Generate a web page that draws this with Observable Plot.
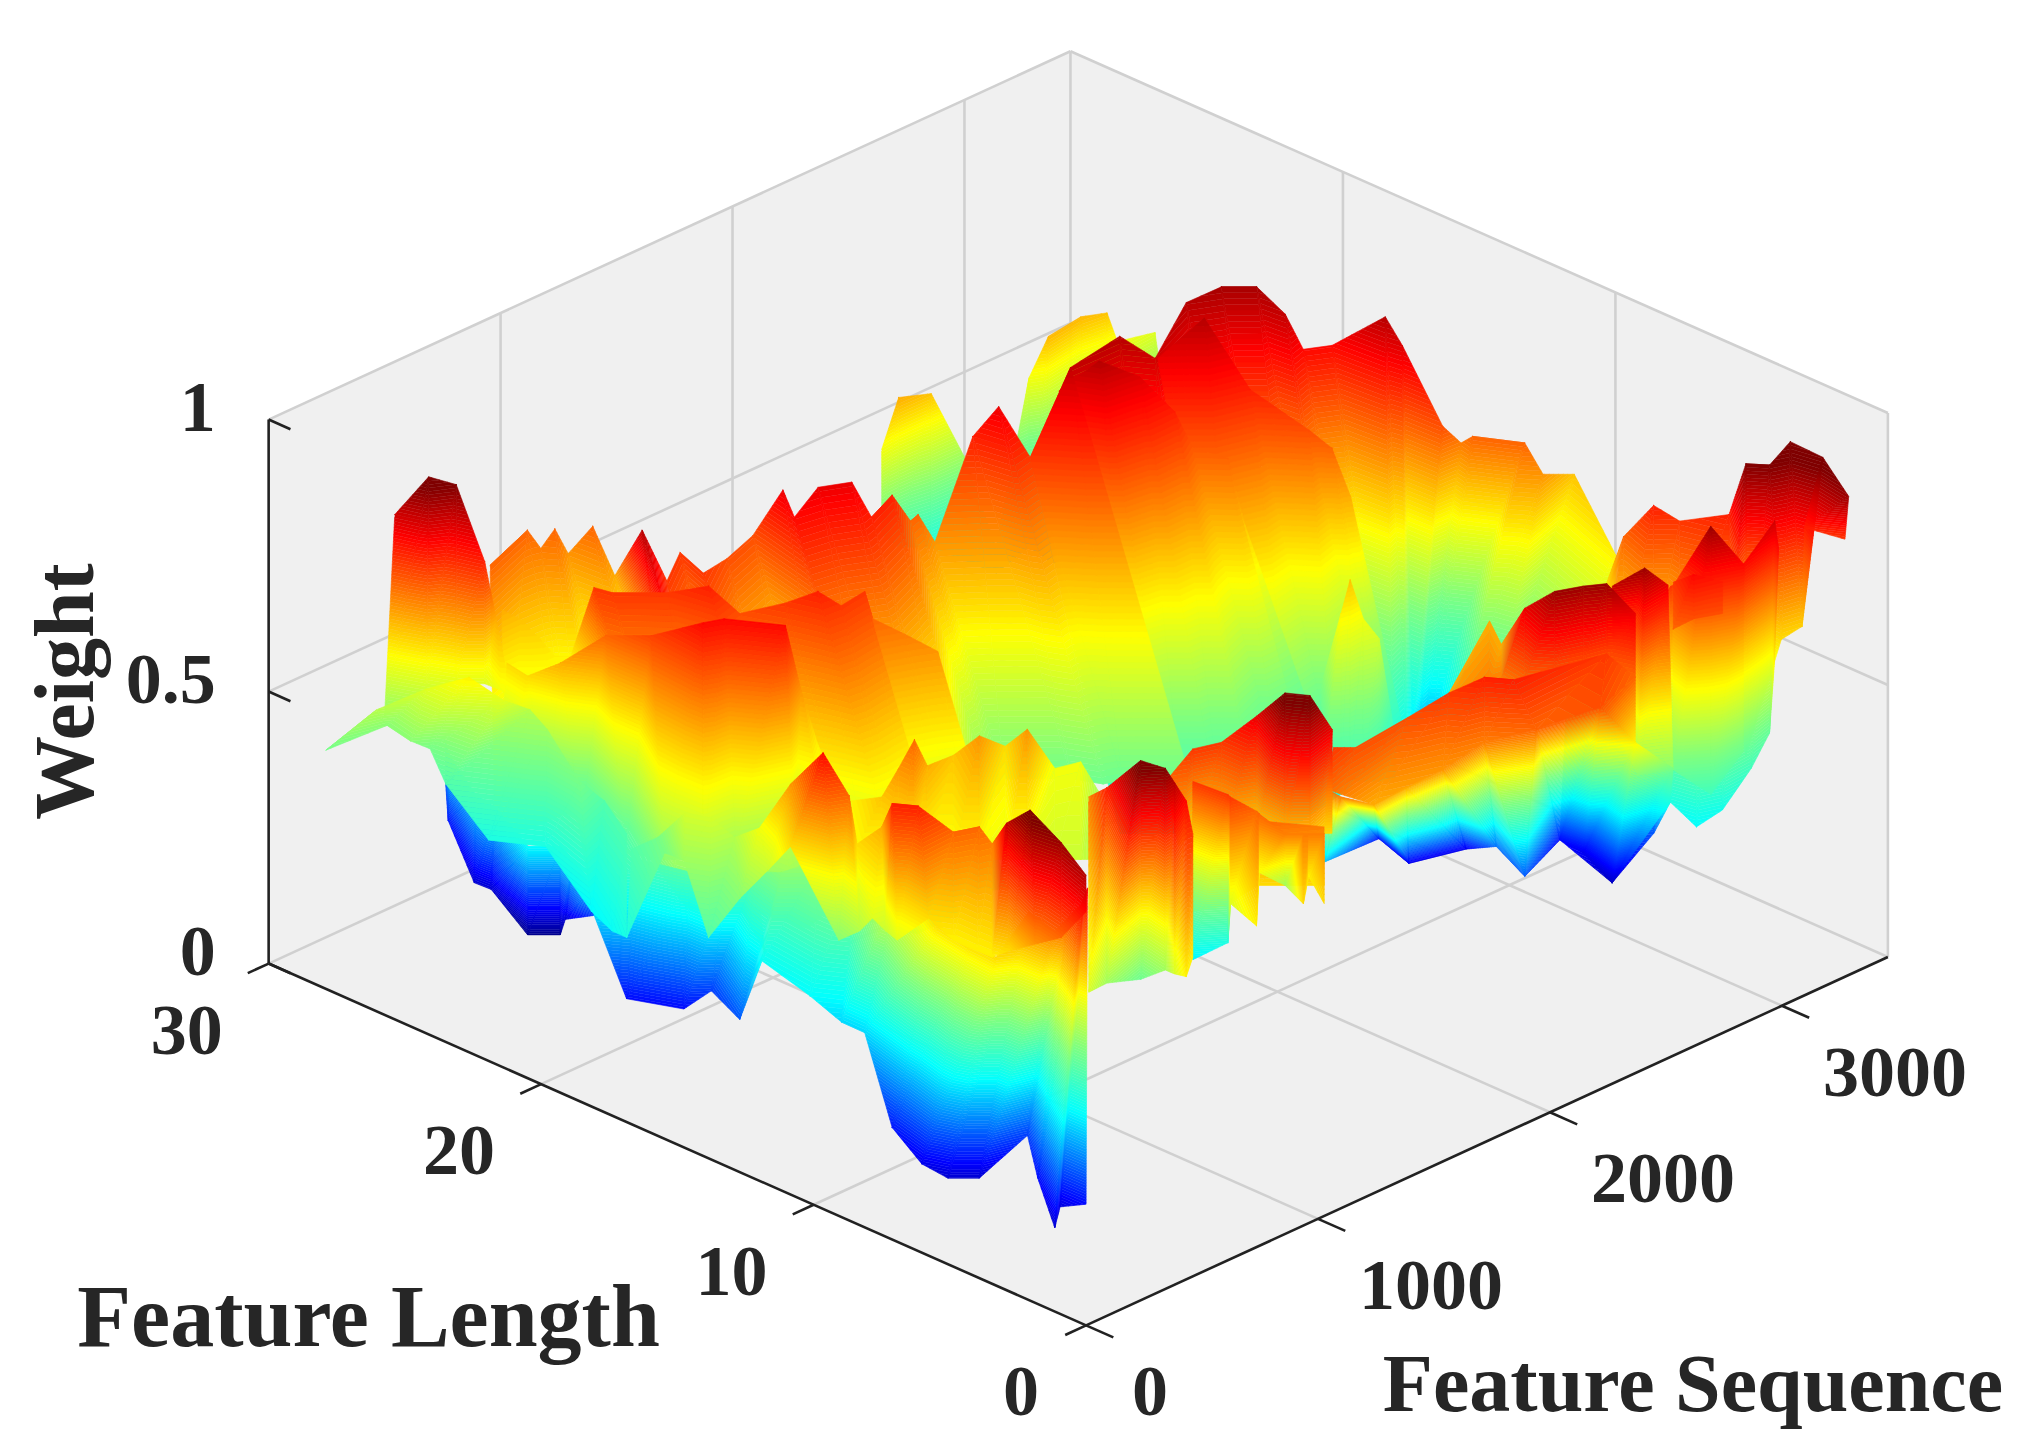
<!DOCTYPE html>
<html><head><meta charset="utf-8">
<script src="https://cdn.jsdelivr.net/npm/d3@7"></script>
<script src="https://cdn.jsdelivr.net/npm/@observablehq/plot@0.6"></script>
<style>html,body{margin:0;padding:0;background:#fff}svg{display:block}</style></head><body><div id="c"></div>
<script>
// Each node: [feature sequence, feature length, weight]. Painted back to front.
const ridge0Top=[[2246,26.62,.58],[2323,26.65,.66],[2462,26.64,.64],[2597,26.59,.5],[2750,26.71,.3],[2900,26.78,.58],[2958,26.56,.65],[3120,26.75,.65],[3220,26.64,.64],[3261,26.61,.58],[3436,26.72,.56],[3467,26.74,.47]];
const ridge0Base=[[2258,26.72,.42],[2335,26.76,.38],[2456,26.59,.36],[2619,26.78,.3],[2756,26.75,.25],[2897,26.76,.27],[2980,26.75,.23],[3117,26.72,.18],[3224,26.68,.16],[3272,26.7,.15],[3430,26.66,.12],[3469,26.76,.11]];
const ridge1Top=[[2055,19.54,.76],[2335,20.45,.85],[2563,20.58,.86],[2584,19.46,.84],[2865,20.71,.86],[2988,20.47,.87],[3063,19.81,.87],[3045,18.61,.85],[3045,17.95,.8],[3125,17.57,.8],[3218,16.41,.86],[3195,15.59,.83],[3129,13.55,.74],[3191,13.4,.7],[3195,13.01,.72],[3274,11.77,.72],[3267,11.04,.68],[3437,11.34,.64],[3243,8.17,.6]];
const ridge1Base=[[1565,12.08,.33],[1620,11.59,.33],[1703,10.86,.33],[1813,9.89,.33],[1923,8.92,.33],[2103,9.49,.33],[2310,9.82,.33],[2399,10.11,.33],[2489,10.39,.33],[2548,10.41,.33],[2637,10.7,.33],[2760,11.51,.3],[2857,12.09,.28],[2902,12.24,.28],[2916,12.11,.28],[2789,10.08,.35],[2856,9.21,.38],[2897,8.13,.42],[3170,7.59,.45]];
const ridge2Top=[[2641,19.86,.82],[2829,19.74,.86],[2792,17.74,.78],[2827,15.89,.74],[2841,15.16,.72],[2806,14.18,.66]];
const ridge2Base=[[1788,9.2,.35],[1961,8.76,.35],[2168,9.09,.35],[2406,9.68,.35],[2465,9.71,.35],[2554,9.99,.35]];
const ridge3Top=[[2277,20.38,.82],[2401,19.96,.86],[2490,19.23,.83],[2526,18.25,.78],[2521,17.54,.73],[2571,16.68,.72],[2514,15.62,.64]];
const ridge3Base=[[1568,11.15,.35],[1651,10.42,.35],[1733,9.69,.35],[1816,8.96,.35],[1995,9.53,.35],[2113,9.58,.35],[2216,9.74,.35]];
const ridge4Top=[[2343,11.3,.47],[2382,10.92,.6],[2459,11.24,.64],[2456,10.73,.58],[2474,10.31,.55],[2495,10.06,.42],[2454,9.52,.38]];
const ridge4Base=[[2111,9.32,.38],[2152,8.96,.38],[2171,8.79,.38],[2199,8.54,.38],[2284,8.69,.36],[2309,8.47,.36],[2320,8.38,.36]];
const ridge5Top=[[500,26.13,.72],[747,26.86,.72],[740,26.31,.7],[811,26.4,.72],[825,26.03,.68],[904,25.8,.72],[870,24.7,.66],[626,21.62,.86],[695,21.3,.76],[860,22.22,.76],[810,20.94,.76],[980,21.53,.74],[1147,21.99,.74],[1220,21.51,.82],[1166,20.63,.8],[1307,20.96,.82],[1403,20.54,.82],[1381,19.63,.78],[1530,20.14,.78],[1601,20.07,.72],[1648,20.19,.72],[1657,19.65,.68],[1981,21.02,.78],[2075,20.87,.82],[2055,19.54,.76],[2335,20.45,.85]];
const ridge5Base=[[-119,20.68,.45],[208,20.59,.45],[248,20.46,.45],[303,19.97,.45],[437,20.2,.45],[458,19.04,.45],[503,19.28,.45],[-59,11.3,.45],[167,13.41,.45],[331,14.33,.45],[281,13.05,.45],[488,14.13,.45],[655,14.6,.45],[587,12.07,.45],[567,11.71,.45],[674,11.52,.45],[770,11.1,.45],[818,11.22,.45],[974,11.78,.45],[1148,13.26,.45],[1190,13.33,.45],[1269,13.81,.45],[1412,12.55,.45],[1454,11.75,.45],[1514,11.55,.45],[1657,10.28,.45]];
const ridge6Top=[[469,25.44,.66],[512,25.09,.64],[512,24.38,.62],[514,23.86,.6],[547,23.57,.6],[510,22.4,.76],[524,21.85,.76],[642,20.8,.76],[707,19.87,.78],[746,19.06,.74],[840,18.19,.76],[913,17.61,.78],[946,17.04,.76],[1064,17.18,.76],[1054,16.81,.72],[1100,16.01,.7],[1140,15.15,.68]];
const ridge6Base=[[52,21.65,.45],[198,20.36,.45],[222,20.04,.45],[263,20.11,.45],[296,19.82,.45],[-19,14.51,.45],[-5,13.95,.45],[113,12.91,.45],[138,11.4,.45],[251,11.69,.45],[312,10.29,.45],[344,9.14,.45],[417,9.14,.45],[529,9.23,.45],[596,9.94,.45],[676,9.67,.45],[752,9.32,.45]];
const ridge7Top=[[451,12.44,.6],[429,11.15,.64],[498,11.12,.68],[564,11.1,.72],[623,11.13,.66],[780,11.51,.64],[824,10.93,.68],[985,11.35,.62],[957,10.3,.68],[1088,10.41,.58],[1174,10.19,.58],[1268,10.27,.5]];
const ridge7Base=[[223,10.5,.58],[287,9.94,.58],[322,9.62,.58],[355,9.33,.58],[383,9.09,.58],[438,8.6,.58],[493,8.11,.58],[600,8.07,.56],[647,7.66,.56],[757,7.59,.54],[812,7.1,.54],[957,7.62,.5]];
const ridge8Top=[[229,27.32,.84],[273,26.45,.92],[346,26.06,.9],[351,25.06,.78],[414,25.17,.66],[331,24.08,.6]];
const ridge8Base=[[179,27.27,.48],[235,26.22,.54],[278,25.49,.56],[338,24.95,.56],[291,23.93,.58],[271,23.57,.58]];
const ridge9Top=[[329,24.06,.62],[311,23.14,.62],[338,22.17,.66],[409,21.11,.72],[427,19.59,.75],[469,18.04,.8],[532,17.81,.8],[630,16.4,.8],[665,16.12,.68],[647,15.35,.6]];
const ridge9Base=[[197,23.13,.42],[327,22.56,.4],[345,21.47,.38],[243,18.98,.4],[87,16.22,.48],[117,15.04,.5],[248,14.96,.5],[434,14.4,.5],[515,14.13,.55],[506,13.57,.6]];
const ridge10Top=[[522,27.95,.35],[520,27.79,.33],[414,25.93,.32],[368,24.82,.33],[250,22.62,.33],[319,22.01,.33],[284,21.24,.33],[204,19.79,.33]];
const ridge10Base=[[713,29.57,.2],[674,29.15,.15],[561,27.23,.1],[565,26.64,.1],[555,25.22,.05],[624,24.61,.05],[579,24.04,.1],[451,21.89,.18]];
const ridge11Top=[[361,21.89,.42],[188,18.03,.42],[236,16.53,.42],[240,15.13,.45],[295,14.65,.45],[272,13.5,.48],[365,12.85,.5],[396,11.68,.52],[146,8.12,.6],[-10,5.36,.62],[-35,3.96,.62],[-42,2.94,.62],[-15,1.97,.72],[-1,1.13,.7],[-16,.54,.74],[-82,-.51,.8],[-97,-.73,.82],[-39,-.38,.82]];
const ridge11Base=[[139,19.24,.3],[225,18.78,.14],[297,17.29,.14],[338,16.63,.18],[209,14.49,.2],[172,13.36,.34],[132,11.25,.33],[152,10.27,.3],[151,9.41,.3],[145,8.35,.15],[112,6.98,.12],[151,6.35,.1],[217,5.77,.1],[316,4.84,.18],[237,3.79,.14],[140,2.34,.1],[225,2.87,.11],[215,1.83,.14]];
const ridge12Top=[[224,18.58,.42],[231,17.68,.46],[173,16.18,.55],[203,15.48,.55],[237,14.92,.52],[177,13.5,.58],[195,12.5,.68],[101,10.51,.8],[158,10.04,.72],[205,10.15,.62],[234,9.49,.66],[56,7.59,.78],[99,7,.78],[205,6.61,.72],[285,6.34,.72],[283,5.85,.7],[23,3.11,.85],[-47,1.65,.92],[-33,.63,.88],[-84,-.71,.86]];
const ridge12Base=[[-54,16.4,.36],[170,16.92,.46],[76,15.41,.5],[-37,13.54,.42],[60,13.22,.48],[101,12.52,.54],[52,11.29,.62],[70,9.67,.48],[54,8.77,.52],[39,8.17,.56],[57,7.84,.54],[-14,6.81,.56],[2,5.79,.62],[0,4.88,.6],[0,4.01,.6],[2,3.46,.6],[17,2.96,.62],[-53,1.41,.68],[-71,.31,.72],[-102,-.87,.8]];
const ridge13Top=[[-55,27.43,.46],[89,26.8,.52],[190,25.83,.56],[232,24.62,.6],[299,23.9,.56],[414,23.93,.52],[409,23.26,.5],[333,21.42,.46],[396,21.05,.42],[287,19.31,.42]];
const ridge13Base=[[-55,27.43,.46],[141,26.85,.48],[116,25.78,.48],[172,25.54,.46],[141,24.7,.42],[120,22.95,.36],[210,21.62,.36],[74,18.78,.33],[-2,17.38,.34],[-54,16.4,.36]];
const ridge14Top=[[3042,6.78,.62],[3035,6.11,.72],[3092,5.49,.78],[3124,4.81,.76],[3208,3.71,.78],[3174,2.8,.9],[3218,2.31,.9],[3296,2.21,.93],[3316,1.19,.92],[3288,0,.88]];
const ridge14Base=[[2764,4.42,.6],[2800,4.1,.6],[2863,3.54,.6],[2866,2.61,.62],[2971,1.69,.62],[3081,2.01,.4],[3137,1.19,.62],[3217,1.11,.63],[3305,1.77,.78],[3387,.98,.76]];
const ridge15Top=[[2476,3.35,.68],[2629,3.08,.68],[2738,2.47,.72],[2794,2.33,.76],[2853,1.88,.78],[2914,1.45,.78],[2950,.98,.8],[3117,1.26,.84],[3105,1.02,.8]];
const ridge15Base=[[2959,7.8,.14],[2994,6.18,.09],[3032,4.98,.2],[2801,2.4,.36],[2816,1.57,.33],[2900,1.33,.35],[3030,1.38,.4],[3132,1.58,.44],[3069,.86,.6]];
const ridge16Top=[[2851,2.73,.74],[2853,1.36,.88],[2950,.98,.8]];
const ridge16Base=[[2728,1.68,.45],[2820,1.07,.4],[2964,1.11,.45]];
const ridge17Top=[[2818,2.44,.76],[2795,1.49,.8],[2871,1.08,.78]];
const ridge17Base=[[2698,1.42,.72],[2740,1.01,.74],[2825,.69,.74]];
const ridge18Top=[[2436,1.43,.85],[2514,.9,.88],[2638,1.1,.82]];
const ridge18Base=[[2667,3.31,.5],[2551,1.46,.48],[2650,1.01,.48]];
const ridge19Top=[[2076,4.34,.66],[2503,6.5,.66],[2416,5.33,.66],[2224,2.83,.82],[2212,1.63,.88],[2297,1.31,.88],[2359,.97,.88],[2433,.55,.82]];
const ridge19Base=[[1974,3.47,.68],[2100,3.07,.7],[2144,3.01,.7],[2141,2.13,.72],[2196,1.5,.74],[2288,1.23,.74],[2369,1.05,.74],[2388,.17,.72]];
const ridge20Top=[[1309,2.07,.76],[1408,2.1,.74],[1661,2.34,.74],[1815,2.13,.76],[1912,1.66,.78],[1961,1.02,.78],[2335,.77,.76],[2388,.17,.72]];
const ridge20Base=[[1200,1.38,.72],[1258,1.34,.7],[1381,1.2,.66],[1643,.89,.68],[1809,.78,.7],[1930,-.1,.72],[2119,-.84,.74],[2389,.18,.6]];
const ridge21Top=[[1200,1.38,.72],[1245,1.24,.7],[1381,1.2,.66],[1531,1.28,.66],[1643,.89,.68],[1809,.78,.7],[1930,-.1,.72],[2119,-.84,.74],[2389,.18,.6],[2708,1.51,.46]];
const ridge21Base=[[1991,8.2,.28],[2556,11.01,.15],[2579,10.11,.12],[2769,9.62,.12],[2585,6.95,.22],[2554,5.64,.2],[2959,7.8,.14],[2998,7.27,.12],[2994,6.18,.09],[2801,2.4,.36]];
const ridge22Top=[[896,4.71,.72],[1005,4.64,.76],[1097,4.37,.76],[1140,3.45,.82],[1052,1.65,.92],[1092,1.08,.92],[1237,1.5,.82],[1249,1.6,.72]];
const ridge22Base=[[873,4.04,.62],[965,4.3,.62],[995,3.5,.62],[1100,3.11,.62],[1098,2.04,.62],[1151,1.58,.62],[1243,1.84,.62],[1260,1.7,.62]];
const ridge23Top=[[830,3.14,.72],[873,2.22,.72],[902,1.42,.72],[1066,.34,.7]];
const ridge23Base=[[644,1.56,.6],[749,1.17,.6],[851,.99,.62],[994,-.28,.62]];
const ridge24Top=[[850,3.32,.76],[862,2.13,.76],[855,1.98,.76],[946,1.79,.72],[939,1.64,.72],[953,.8,.7],[991,.46,.7],[1002,.36,.7],[1035,.07,.7]];
const ridge24Base=[[1142,5.8,.32],[1193,4.95,.36],[865,2.06,.56],[710,-.21,.6],[1023,2.35,.58],[1224,3.11,.5],[863,-.63,.62],[1057,.83,.6],[907,-1.02,.62]];
const ridge25Top=[[711,5.96,.7],[585,4.22,.78],[423,1.6,.92],[490,1.26,.9],[545,1.39,.86],[639,1.76,.8],[601,1.2,.76]];
const ridge25Base=[[168,1.33,.55],[380,2.47,.5],[600,3.1,.45],[566,1.91,.5],[437,.47,.55],[319,-.96,.6],[426,-.29,.6]];

const sheets=[[ridge0Top,ridge0Base],[ridge1Top,ridge1Base],[ridge2Top,ridge2Base],[ridge3Top,ridge3Base],[ridge4Top,ridge4Base],[ridge5Top,ridge5Base],[ridge6Top,ridge6Base],[ridge7Top,ridge7Base],[ridge8Top,ridge8Base],[ridge9Top,ridge9Base],[ridge10Top,ridge10Base],[ridge11Top,ridge11Base],[ridge12Top,ridge12Base],[ridge13Top,ridge13Base],[ridge14Top,ridge14Base],[ridge15Top,ridge15Base],[ridge16Top,ridge16Base],[ridge17Top,ridge17Base],[ridge18Top,ridge18Base],[ridge19Top,ridge19Base],[ridge20Top,ridge20Base],[ridge21Top,ridge21Base],[ridge22Top,ridge22Base],[ridge23Top,ridge23Base],[ridge24Top,ridge24Base],[ridge25Top,ridge25Base]];
const seqMax=3457,lenMax=30;
const seqTicks=[0,1000,2000,3000],lenTicks=[0,10,20,30],weightTicks=[0,0.5,1];
const seqTickLabels=["0","1000","2000","3000"],lenTickLabels=["0","10","20","30"],weightTickLabels=["0","0.5","1"];

// Oblique 3-D view of the box: data (seq, length, weight) -> the plot's x and y.
const px=(s,l,w)=>834+616*s/seqMax-628*l/lenMax, py=(s,l,w)=>1018-283*s/seqMax-278*l/lenMax-418*w;
const polys=[];let id=0;const dw=.006;
function clip(poly,f){const o=[];for(let i=0;i<poly.length;i++){const p=poly[i],q=poly[(i+1)%poly.length],a=f(p),b=f(q);if(a>=0)o.push(p);if((a>=0)!==(b>=0)){const t=a/(a-b);o.push(p.map((v,k)=>v+t*(q[k]-v)));}}return o;}
function tri(A,B,C){const ws=[A[2],B[2],C[2]];const lo=Math.floor(Math.min(...ws)/dw-1e-9),hi=Math.ceil(Math.max(...ws)/dw+1e-9);
 for(let L=lo;L<hi;L++){const l0=L*dw,l1=l0+dw;let pg=clip([A,B,C],p=>p[2]-l0);if(pg.length<3)continue;pg=clip(pg,p=>l1-p[2]);if(pg.length<3)continue;const i=id++;for(const p of pg)polys.push({x:px(...p),y:py(...p),c:l0+dw/2,i});}}
for(const [t,b] of sheets){for(let i=0;i+1<t.length;i++){tri(t[i],t[i+1],b[i]);tri(t[i+1],b[i+1],b[i]);}}
const P3=(s,l,w)=>({x:px(s,l,w),y:py(s,l,w)});
const quad=(a)=>a.map(p=>P3(...p));
const walls=[[[0,0,0],[seqMax,0,0],[seqMax,lenMax,0],[0,lenMax,0]],[[0,lenMax,0],[seqMax,lenMax,0],[seqMax,lenMax,1],[0,lenMax,1]],[[seqMax,lenMax,0],[seqMax,0,0],[seqMax,0,1],[seqMax,lenMax,1]]].flatMap((q,i)=>quad(q).map(p=>({...p,i})));
const seg=(a,b)=>{const p=P3(...a),q=P3(...b);return {x1:p.x,y1:p.y,x2:q.x,y2:q.y};};
const grid=[...seqTicks.slice(1).flatMap(s=>[seg([s,0,0],[s,lenMax,0]),seg([s,lenMax,0],[s,lenMax,1])]),...lenTicks.slice(1,3).flatMap(l=>[seg([0,l,0],[seqMax,l,0]),seg([seqMax,l,0],[seqMax,l,1])]),seg([0,lenMax,.5],[seqMax,lenMax,.5]),seg([seqMax,lenMax,.5],[seqMax,0,.5]),seg([0,lenMax,1],[seqMax,lenMax,1]),seg([seqMax,lenMax,1],[seqMax,0,1]),seg([seqMax,lenMax,0],[seqMax,lenMax,1]),seg([seqMax,0,0],[seqMax,0,1]),seg([seqMax,0,0],[seqMax,lenMax,0]),seg([0,lenMax,0],[seqMax,lenMax,0])];
const axes=[seg([0,0,0],[seqMax,0,0]),seg([0,0,0],[0,lenMax,0]),seg([0,lenMax,0],[0,lenMax,1]),
 ...seqTicks.map(s=>seg([s,0,0],[s,-1,0])),...lenTicks.map(l=>seg([0,l,0],[-90,l,0])),...weightTicks.map(w=>seg([0,lenMax,w],[0,lenMax-.8,w]))];
const font={fontFamily:"Liberation Serif",fontWeight:"bold",fill:"#262626"};
const tl=(v,labels,f)=>v.map((d,i)=>({...f(d),d:labels[i]}));
const chart=Plot.plot({width:2041,height:1455,margin:0,x:{domain:[0,1568],range:[0,2041],axis:null},y:{domain:[0,1118],range:[0,1455],axis:null},
 color:{type:"linear",domain:[.04,.135,.33,.47,.59,.805,.9],range:["#00007f","#0000ff","#00ffff","#7fff7f","#ffff00","#ff0000","#7f0000"],clamp:true},
 marks:[
 Plot.line(walls,{x:"x",y:"y",z:"i",fill:"#f0f0f0",stroke:"none"}),
 Plot.link(grid,{x1:"x1",y1:"y1",x2:"x2",y2:"y2",stroke:"#d0d0d0",strokeWidth:2.6}),
 Plot.link(axes,{x1:"x1",y1:"y1",x2:"x2",y2:"y2",stroke:"#222",strokeWidth:2.6}),
 Plot.line(polys,{x:"x",y:"y",z:"i",fill:"c",stroke:"c",strokeWidth:.6}),
 Plot.text(tl(weightTicks,weightTickLabels,w=>P3(0,lenMax,w)),{x:"x",y:"y",text:"d",...font,fontSize:72,textAnchor:"end",dx:-53,dy:-12}),
 Plot.text(tl(lenTicks.slice(1),lenTickLabels.slice(1),l=>P3(0,l,0)),{x:"x",y:"y",text:"d",...font,fontSize:72,dx:-82,dy:67}),
 Plot.text(tl([0],["0"],l=>P3(0,l,0)),{x:"x",y:"y",text:"d",...font,fontSize:72,dx:-65,dy:67}),
 Plot.text(tl(seqTicks.slice(1),seqTickLabels.slice(1),s=>P3(s,0,0)),{x:"x",y:"y",text:"d",...font,fontSize:72,dx:113,dy:67}),
 Plot.text(tl([0],["0"],s=>P3(s,0,0)),{x:"x",y:"y",text:"d",...font,fontSize:72,dx:64,dy:67}),
 Plot.text([{...P3(0,10,0),d:"Feature Length"}],{x:"x",y:"y",text:"d",...font,fontSize:88,dx:-445,dy:113}),
 Plot.text([{...P3(2000,0,0),d:"Feature Sequence"}],{x:"x",y:"y",text:"d",...font,fontSize:82,dx:143,dy:272}),
 Plot.text([{...P3(0,lenMax,.5),d:"Weight"}],{x:"x",y:"y",text:"d",...font,fontSize:84,rotate:-90,dx:-203}),
 ]});
document.getElementById("c").append(chart);
</script></body></html>
